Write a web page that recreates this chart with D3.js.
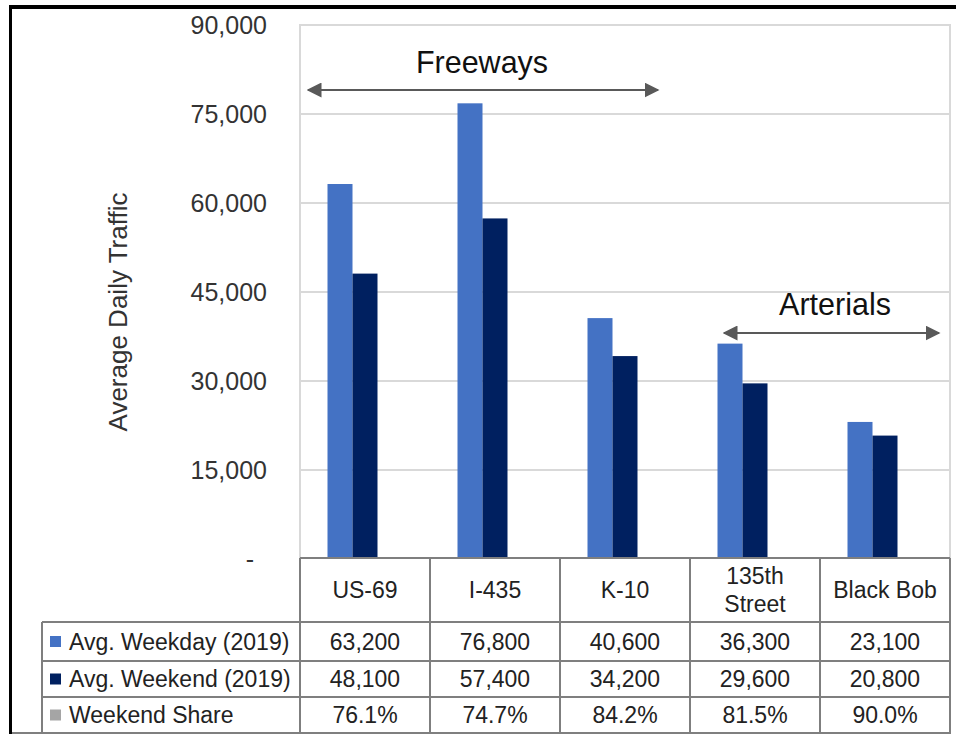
<!DOCTYPE html>
<html>
<head>
<meta charset="utf-8">
<script src="https://cdn.jsdelivr.net/npm/d3@7"></script>
<style>
  html, body { margin: 0; padding: 0; background: #fff; }
  svg { display: block; font-family: "Liberation Sans", Arial, sans-serif; }
</style>
</head>
<body>
<svg id="chart" width="956" height="734"></svg>
<script>
// Corridor traffic counts (2019)
const categories = ["US-69", "I-435", "K-10", "135th Street", "Black Bob"];
const weekday = [63200, 76800, 40600, 36300, 23100];
const weekend = [48100, 57400, 34200, 29600, 20800];
const weekendShare = [0.761, 0.747, 0.842, 0.815, 0.900];
const yTicks = [0, 15000, 30000, 45000, 60000, 75000, 90000];
const seriesNames = ["Avg. Weekday (2019)", "Avg. Weekend (2019)", "Weekend Share"];
const seriesColors = ["#4472C4", "#002060", "#A5A5A5"];

const svg = d3.select("#chart");
const W = 956, H = 734;
const plot = { left: 300, right: 950, top: 25, bottom: 559 };

// outer frame (top and left edges)
svg.append("rect").attr("x", 0).attr("y", 0).attr("width", W).attr("height", H).attr("fill", "#fff");
svg.append("line").attr("x1", 9).attr("x2", W).attr("y1", 7).attr("y2", 7)
  .attr("stroke", "#000").attr("stroke-width", 4);
svg.append("line").attr("x1", 10.5).attr("x2", 10.5).attr("y1", 5).attr("y2", H)
  .attr("stroke", "#000").attr("stroke-width", 3);

const x = d3.scaleBand().domain(categories).range([plot.left, plot.right]).padding(0);
const xs = d3.scaleBand().domain(["weekday", "weekend", "share"])
  .range([0, x.bandwidth()]).paddingInner(0).paddingOuter(1.1);
const y = d3.scaleLinear().domain([0, 90000]).range([plot.bottom, plot.top]);

// gridlines
svg.append("g").selectAll("line").data(yTicks.filter(d => d > 0)).join("line")
  .attr("x1", plot.left).attr("x2", plot.right)
  .attr("y1", d => y(d)).attr("y2", d => y(d))
  .attr("stroke", "#d9d9d9").attr("stroke-width", 2);
// plot area border
svg.append("rect").attr("x", plot.left).attr("y", plot.top)
  .attr("width", plot.right - plot.left).attr("height", plot.bottom - plot.top)
  .attr("fill", "none").attr("stroke", "#d9d9d9").attr("stroke-width", 2);

// y axis labels
const yAxis = d3.axisLeft(y).tickValues(yTicks).tickSize(0).tickPadding(33)
  .tickFormat(d => d === 0 ? "-" : d3.format(",")(d));
const gy = svg.append("g").attr("transform", `translate(${plot.left},0)`).call(yAxis);
gy.select(".domain").remove();
gy.selectAll("text").attr("font-size", 25).attr("fill", "#333")
  .attr("font-family", "Liberation Sans, Arial, sans-serif")
  .attr("dx", d => d === 0 ? -13 : 0);

svg.append("text")
  .attr("transform", "translate(127,312) rotate(-90)")
  .attr("text-anchor", "middle").attr("font-size", 26).attr("fill", "#333")
  .text("Average Daily Traffic");

// bars
const rows = categories.map((c, i) => ({ c, weekday: weekday[i], weekend: weekend[i], share: weekendShare[i] }));
const series = [
  { key: "weekday", color: seriesColors[0] },
  { key: "weekend", color: seriesColors[1] }
];
series.forEach(s => {
  svg.append("g").selectAll("rect").data(rows).join("rect")
    .attr("x", d => x(d.c) + xs(s.key))
    .attr("width", xs.bandwidth())
    .attr("y", d => y(d[s.key]))
    .attr("height", d => y(0) - y(d[s.key]))
    .attr("fill", s.color);
});

// group annotations
const ann = svg.append("g");
const defs = svg.append("defs");
defs.append("marker").attr("id", "ah").attr("viewBox", "0 0 10 10")
  .attr("refX", 9).attr("refY", 5).attr("markerWidth", 7.5).attr("markerHeight", 7.5)
  .attr("markerUnits", "strokeWidth").attr("orient", "auto-start-reverse")
  .append("path").attr("d", "M0,0 L10,5 L0,10 Z").attr("fill", "#595959");

function bracket(x1, x2, yy, label, tx, ty) {
  ann.append("line").attr("x1", x1).attr("x2", x2).attr("y1", yy).attr("y2", yy)
    .attr("stroke", "#595959").attr("stroke-width", 2)
    .attr("marker-start", "url(#ah)").attr("marker-end", "url(#ah)");
  ann.append("text").attr("x", tx).attr("y", ty).attr("text-anchor", "middle")
    .attr("font-size", 30.5).attr("fill", "#111").text(label);
}
bracket(308, 658, 90, "Freeways", 482, 73);
bracket(724, 939, 333, "Arterials", 835, 315);

// data table
const rowEdges = [558, 622, 661, 697, 733];
const tcol = "#7f7f7f";
const legLeft = 42;
const tbl = svg.append("g");
tbl.append("rect").attr("x", plot.left).attr("y", rowEdges[0]).attr("width", plot.right - plot.left)
  .attr("height", rowEdges[1] - rowEdges[0]).attr("fill", "#fff");
tbl.append("rect").attr("x", legLeft).attr("y", rowEdges[1]).attr("width", plot.right - legLeft)
  .attr("height", H - rowEdges[1]).attr("fill", "#fff");

// horizontal rules
tbl.append("line").attr("x1", plot.left).attr("x2", plot.right).attr("y1", rowEdges[0]).attr("y2", rowEdges[0]);
rowEdges.slice(1, -1).forEach(r => {
  tbl.append("line").attr("x1", legLeft).attr("x2", plot.right).attr("y1", r).attr("y2", r);
});
tbl.append("line").attr("x1", 12).attr("x2", plot.right)
  .attr("y1", rowEdges[rowEdges.length - 1]).attr("y2", rowEdges[rowEdges.length - 1]);
// vertical rules
tbl.append("line").attr("x1", legLeft).attr("x2", legLeft).attr("y1", rowEdges[1]).attr("y2", H);
categories.forEach(c => {
  tbl.append("line").attr("x1", x(c)).attr("x2", x(c)).attr("y1", rowEdges[0]).attr("y2", H);
});
tbl.append("line").attr("x1", plot.right).attr("x2", plot.right).attr("y1", rowEdges[0]).attr("y2", H);
tbl.selectAll("line").attr("stroke", tcol).attr("stroke-width", 2);

const fs = 23;
// category headers
const headerLines = { "135th Street": ["135th", "Street"] };
categories.forEach(c => {
  const lines = headerLines[c] || [c];
  const cy = (rowEdges[0] + rowEdges[1]) / 2;
  const lh = 28;
  lines.forEach((ln, k) => {
    tbl.append("text").attr("x", x(c) + x.bandwidth() / 2)
      .attr("y", cy + (k - (lines.length - 1) / 2) * lh)
      .attr("dy", "0.35em").attr("text-anchor", "middle")
      .attr("font-size", fs).attr("fill", "#222").text(ln);
  });
});

// value rows
const fmtN = d3.format(",");
const fmtP = d3.format(".1%");
const rowValues = [weekday.map(fmtN), weekend.map(fmtN), weekendShare.map(fmtP)];
rowValues.forEach((vals, r) => {
  const cy = (rowEdges[r + 1] + rowEdges[r + 2]) / 2;
  tbl.append("rect").attr("x", 50).attr("y", cy - 5.5).attr("width", 11).attr("height", 11)
    .attr("fill", seriesColors[r]);
  tbl.append("text").attr("x", 69).attr("y", cy).attr("dy", "0.35em")
    .attr("font-size", fs).attr("fill", "#222").text(seriesNames[r]);
  vals.forEach((v, i) => {
    tbl.append("text").attr("x", x(categories[i]) + x.bandwidth() / 2).attr("y", cy)
      .attr("dy", "0.35em").attr("text-anchor", "middle")
      .attr("font-size", fs).attr("fill", "#222").text(v);
  });
});
</script>
</body>
</html>
